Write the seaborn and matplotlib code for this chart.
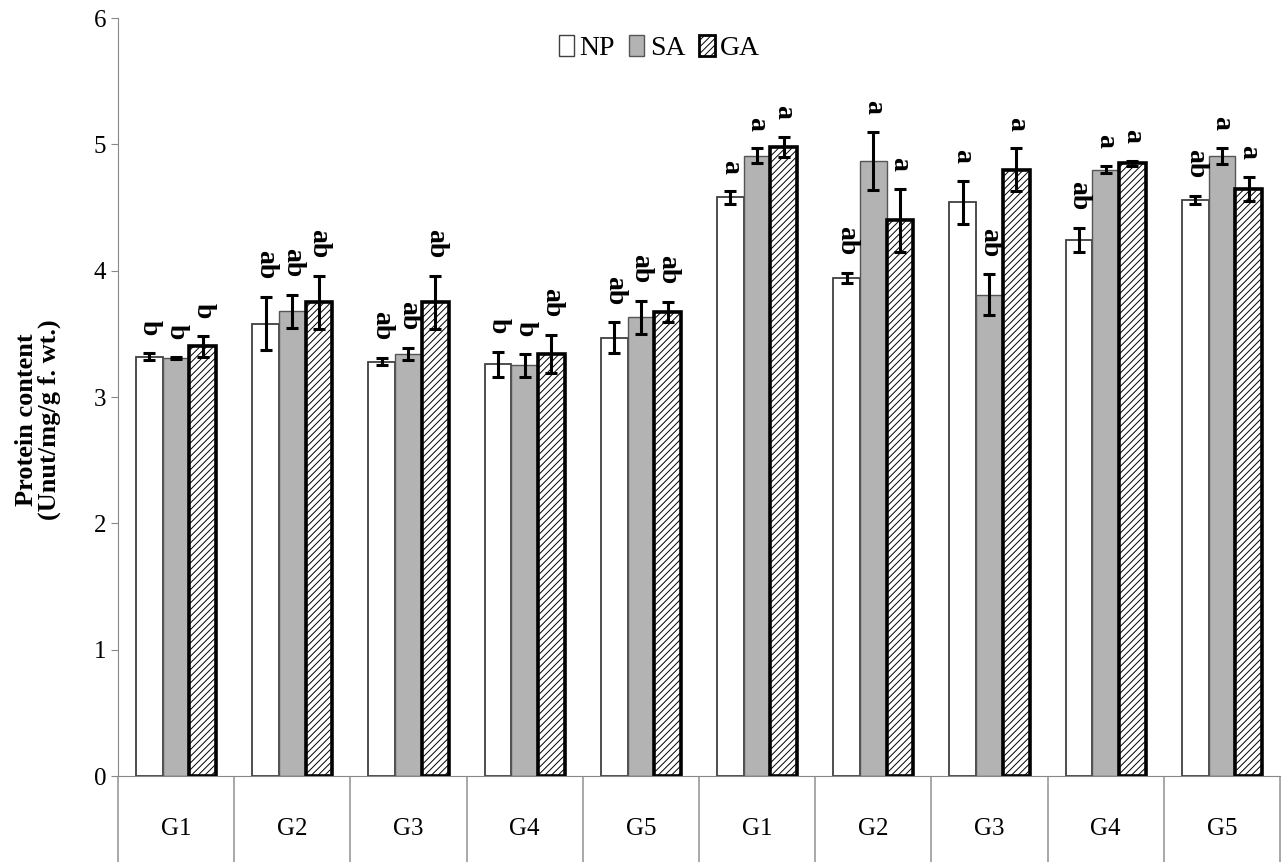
import numpy as np
import pandas as pd
import seaborn as sns
import matplotlib
matplotlib.use("Agg")
import matplotlib.pyplot as plt
from matplotlib.patches import Patch

# valores
groups = ["G1", "G2", "G3", "G4", "G5", "G1", "G2", "G3", "G4", "G5"]
treatments = ["NP", "SA", "GA"]
np_vals = [3.32, 3.58, 3.28, 3.26, 3.47, 4.58, 3.94, 4.54, 4.24, 4.56]
sa_vals = [3.31, 3.68, 3.34, 3.25, 3.63, 4.91, 4.87, 3.81, 4.80, 4.91]
ga_vals = [3.40, 3.75, 3.75, 3.34, 3.67, 4.98, 4.40, 4.80, 4.85, 4.65]
np_err = [0.03, 0.21, 0.03, 0.10, 0.12, 0.05, 0.04, 0.17, 0.095, 0.035]
sa_err = [0.01, 0.13, 0.05, 0.09, 0.13, 0.06, 0.23, 0.16, 0.03, 0.065]
ga_err = [0.08, 0.21, 0.21, 0.15, 0.08, 0.08, 0.25, 0.17, 0.02, 0.095]
np_let = ["b", "ab", "ab", "b", "ab", "a", "ab", "a", "ab", "ab"]
sa_let = ["b", "ab", "ab", "b", "ab", "a", "a", "ab", "a", "a"]
ga_let = ["b", "ab", "ab", "ab", "ab", "a", "a", "a", "a", "a"]

sns.set_style("white")
plt.rcParams["font.family"] = ["Liberation Serif", "DejaVu Serif"]
plt.rcParams["hatch.linewidth"] = 0.7
plt.rcParams["text.color"] = "black"
plt.rcParams["axes.labelcolor"] = "black"

pos = [f"c{i}" for i in range(len(groups))]
df = pd.DataFrame({
    "pos": pos * 3,
    "treat": np.repeat(treatments, len(groups)),
    "value": np_vals + sa_vals + ga_vals,
})

fig = plt.figure(figsize=(12.85, 8.63), dpi=100)
ax = fig.add_axes([0.0918, 0.1008, 0.9043, 0.8783])

sns.barplot(data=df, x="pos", y="value", hue="treat", order=pos,
            hue_order=treatments, palette=["white", "#b3b3b3", "white"],
            width=0.69, errorbar=None, legend=False, ax=ax)

errs = [np_err, sa_err, ga_err]
lets = [np_let, sa_let, ga_let]
bar_conts = list(ax.containers)
for k, cont in enumerate(bar_conts):
    for i, p in enumerate(cont.patches):
        if k == 0:
            p.set_edgecolor("#404040"); p.set_linewidth(1.3)
        elif k == 1:
            p.set_edgecolor("#555555"); p.set_linewidth(1.0)
        else:
            p.set_edgecolor("black"); p.set_linewidth(2.6); p.set_hatch("/////")
        xc = p.get_x() + p.get_width() / 2
        h = p.get_height()
        e = errs[k][i]
        ax.errorbar(xc, h, yerr=e, fmt="none", ecolor="black", elinewidth=2.2,
                    capsize=4, capthick=2.2, zorder=5)
        ax.text(xc, h + e + 0.14, lets[k][i], rotation=-90, ha="center", va="bottom",
                fontsize=20, fontweight="bold")

ax.set_ylim(0, 6)
ax.set_xlim(-0.5, len(groups) - 0.5)
ax.set_yticks(range(7))
ax.tick_params(axis="y", labelsize=18, length=5, color="#888888", labelcolor="black",
               direction="out", left=True)
ax.set_xticks(np.arange(-0.5, len(groups), 1.0))
ax.set_xticklabels([])
ax.tick_params(axis="x", which="major", length=62, color="#999999", width=1.2, bottom=True)
ax.set_xticks(range(len(groups)), minor=True)
ax.set_xticklabels(groups, minor=True)
ax.tick_params(axis="x", which="minor", length=0, labelsize=18, labelcolor="black", pad=30)
ax.set_xlabel("")
ax.set_ylabel("Protein content\n(Unut/mg/g f. wt.)", fontsize=19, fontweight="bold",
              linespacing=1.0)
ax.yaxis.set_label_coords(-0.049, 0.47)

for s in ["top", "right"]:
    ax.spines[s].set_visible(False)
ax.spines["left"].set_color("#888888")
ax.spines["bottom"].set_color("#888888")

handles = [Patch(facecolor="white", edgecolor="#404040", label="NP"),
           Patch(facecolor="#b3b3b3", edgecolor="#555555", label="SA"),
           Patch(facecolor="white", edgecolor="black", hatch="/////", linewidth=2, label="GA")]
ax.legend(handles=handles, loc="upper center", bbox_to_anchor=(0.466, 1.01), ncol=3,
          frameon=False, fontsize=20, handlelength=0.55, handleheight=0.75,
          handletextpad=0.2, columnspacing=0.5)

fig.savefig("out.png", dpi=100)
